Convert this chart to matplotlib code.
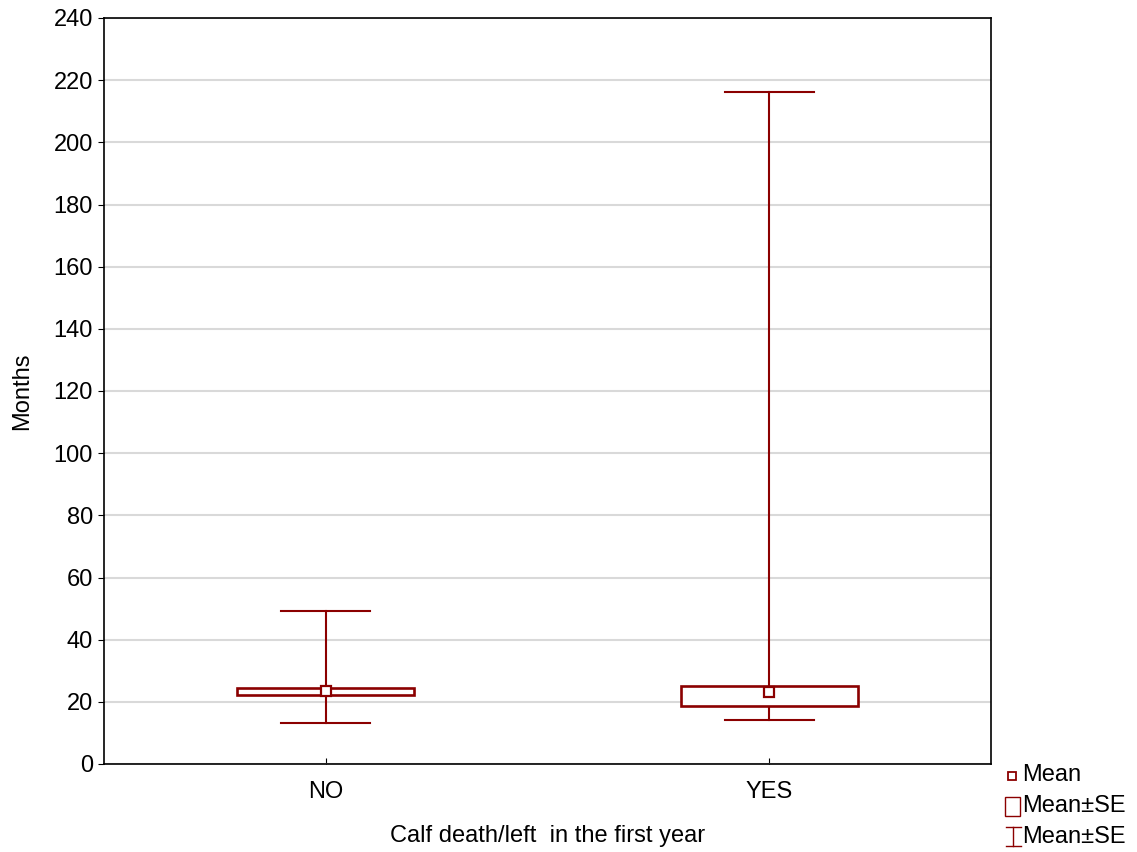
import matplotlib
matplotlib.use("Agg")
import matplotlib.pyplot as plt
from matplotlib.patches import Rectangle
from matplotlib.lines import Line2D

plt.rcParams['font.family'] = ['Liberation Sans', 'DejaVu Sans']

categories = ["NO", "YES"]
means = [23.5, 23.3]
se_low = [22.2, 18.6]
se_high = [24.4, 25.0]
whisk_low = [13.2, 14.1]
whisk_high = [49.2, 216.2]
yticks = list(range(0, 241, 20))
legend_labels = ["Mean", "Mean±SE", "Mean±SE"]

color = "#8B0000"
FS = 17
W, H = 1137, 852

fig = plt.figure(figsize=(W/100, H/100), dpi=100)
ax = fig.add_axes([104/W, 1-764/H, (991-104)/W, (764-18)/H])

box_w = 0.4
cap_w = 0.2
for i in range(len(categories)):
    ax.plot([i, i], [whisk_low[i], se_low[i]], color=color, lw=1.5, zorder=3)
    ax.plot([i, i], [se_high[i], whisk_high[i]], color=color, lw=1.5, zorder=3)
    ax.plot([i - cap_w/2, i + cap_w/2], [whisk_low[i]]*2, color=color, lw=1.5, zorder=3)
    ax.plot([i - cap_w/2, i + cap_w/2], [whisk_high[i]]*2, color=color, lw=1.5, zorder=3)
    ax.add_patch(Rectangle((i - box_w/2, se_low[i]), box_w, se_high[i]-se_low[i],
                           facecolor="white", edgecolor=color, lw=1.9, zorder=4))
    ax.plot([i], [means[i]], marker="s", ms=7.5, mfc="white", mec=color, mew=1.6, zorder=5)

ax.set_xlim(-0.5, 1.5)
ax.set_ylim(0, 240)
ax.set_yticks(yticks)
ax.set_xticks(range(len(categories)))
ax.set_xticklabels(categories)
ax.yaxis.grid(True, color="#d9d9d9", lw=1.5)
ax.set_axisbelow(True)
ax.tick_params(axis='y', direction='out', length=4, labelsize=FS, color='black', pad=4)
ax.tick_params(axis='x', direction='in', length=4, labelsize=FS, pad=12)
for s in ax.spines.values():
    s.set_linewidth(1.2)
ax.set_ylabel("Months", fontsize=FS)
ax.yaxis.set_label_coords(-(104-22)/887, 0.5)
ax.set_xlabel("Calf death/left  in the first year", fontsize=FS)
ax.xaxis.set_label_coords(0.5, -(836-764)/746)
ax.xaxis.label.set_va('center')
ax.yaxis.label.set_va('center')

# legend drawn in figure pixel coordinates
def fx(px):
    return px / W
def fy(py):
    return 1 - py / H

tf = fig.transFigure
# Mean marker
fig.add_artist(Rectangle((fx(1007.5), fy(780)), 8/W, 8/H, facecolor='white',
                         edgecolor=color, lw=1.3, transform=tf))
# Mean±SE box
fig.add_artist(Rectangle((fx(1004.5), fy(816)), 15/W, 19/H, facecolor='white',
                         edgecolor=color, lw=1.0, transform=tf))
# Mean±SE whisker
ex, ey0, ey1 = 1013, 827, 846
fig.add_artist(Line2D([fx(ex), fx(ex)], [fy(ey0), fy(ey1)], color=color, lw=1.0, transform=tf))
fig.add_artist(Line2D([fx(ex-7.5), fx(ex+7.5)], [fy(ey0), fy(ey0)], color=color, lw=1.0, transform=tf))
fig.add_artist(Line2D([fx(ex-7.5), fx(ex+7.5)], [fy(ey1), fy(ey1)], color=color, lw=1.0, transform=tf))
for lab, py in zip(legend_labels, [775, 806, 837]):
    fig.text(fx(1022), fy(py), lab, fontsize=FS, va='center', ha='left')

fig.savefig("out.png", dpi=100)
